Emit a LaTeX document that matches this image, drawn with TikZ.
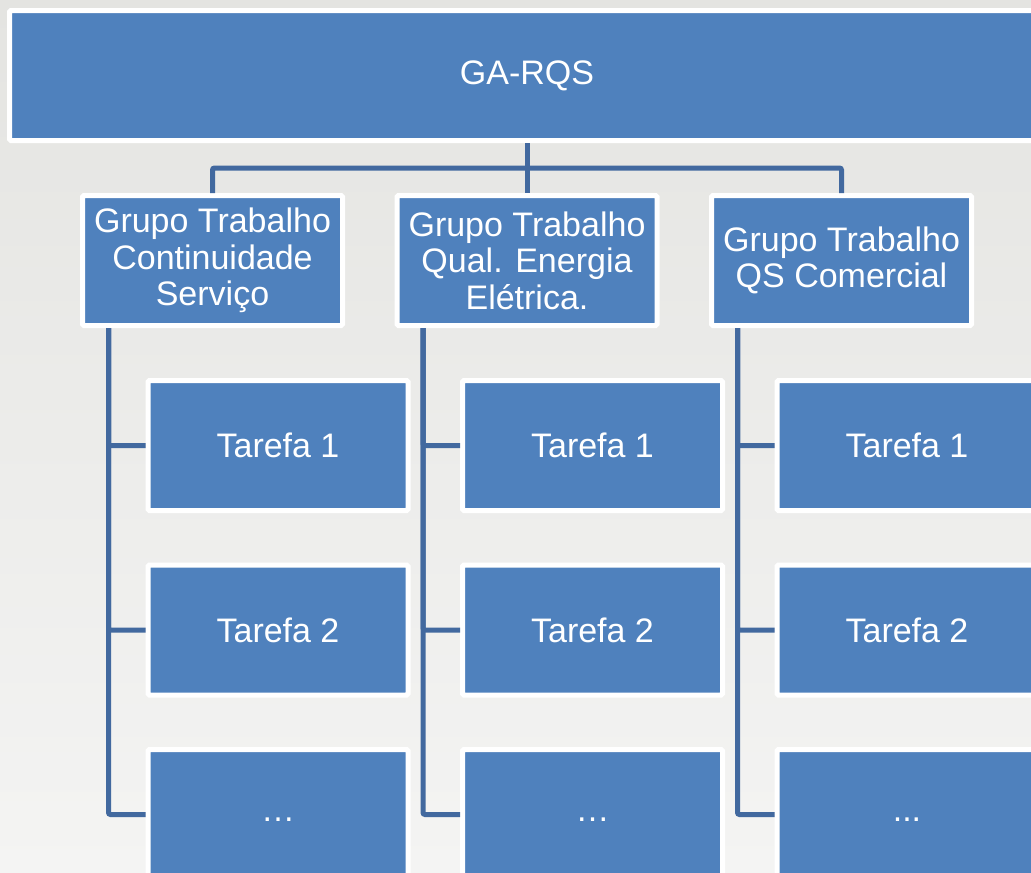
\documentclass[tikz,border=0pt]{standalone}
\usepackage{fontspec}
\setmainfont{Liberation Sans}
\usetikzlibrary{positioning, calc}
\definecolor{boxblue}{HTML}{4F81BD}
\definecolor{lineblue}{HTML}{42699F}
\definecolor{bgtop}{HTML}{E4E4E1}
\definecolor{bgbot}{HTML}{F4F4F3}

\begin{document}
\begin{tikzpicture}[x=1pt, y=-1pt, node distance=185pt, on grid,
	block/.style={rectangle, fill=boxblue, draw=white, line width=5pt, rounded corners=1.5pt,
		minimum width=260pt, minimum height=130pt, inner sep=0pt, text=white, align=center,
		font=\fontsize{34}{36.5}\selectfont},
	conn/.style={draw=lineblue, line width=5pt, rounded corners=2pt}]
	\clip (0,0) rectangle (1031,873);
	\shade[top color=bgtop, bottom color=bgbot] (0,0) rectangle (1031,873);
	
	\node[block, minimum width=1035pt] (GA) at (527,75.5) {GA-RQS};
	\node[block, below=of GA] (G2) {Grupo Trabalho\\Qual. Energia\\Elétrica.};
	\node[block, left=314.5pt of G2] (G1) {Grupo Trabalho\\Continuidade\\Serviço};
	\node[block, right=314.5pt of G2] (G3) {Grupo Trabalho\\QS Comercial};
	
	\node[block, below right=185pt and 65.5pt of G1] (T11) {Tarefa 1};
	\node[block, below=184.5pt of T11] (T12) {Tarefa 2};
	\node[block, below=184.5pt of T12] (T13) {\strut…};
	\node[block, below right=185pt and 65.5pt of G2] (T21) {Tarefa 1};
	\node[block, below=184.5pt of T21] (T22) {Tarefa 2};
	\node[block, below=184.5pt of T22] (T23) {\strut…};
	\node[block, below right=185pt and 65.5pt of G3] (T31) {Tarefa 1};
	\node[block, below=184.5pt of T31] (T32) {Tarefa 2};
	\node[block, below=184.5pt of T32] (T33) {\strut...};
	
	% Connections
	\coordinate (bus) at ($(GA.south)!0.5!(G2.north)$);
	\draw[conn] (GA.south) -- (G2.north);
	\draw[conn] (G1.north) |- (bus) -| (G3.north);
	\foreach \g in {1,2,3} {
		\foreach \t in {1,2,3}
			\draw[conn] ([xshift=-104pt]G\g.south) |- (T\g\t.west);
	}
\end{tikzpicture}
\end{document}
